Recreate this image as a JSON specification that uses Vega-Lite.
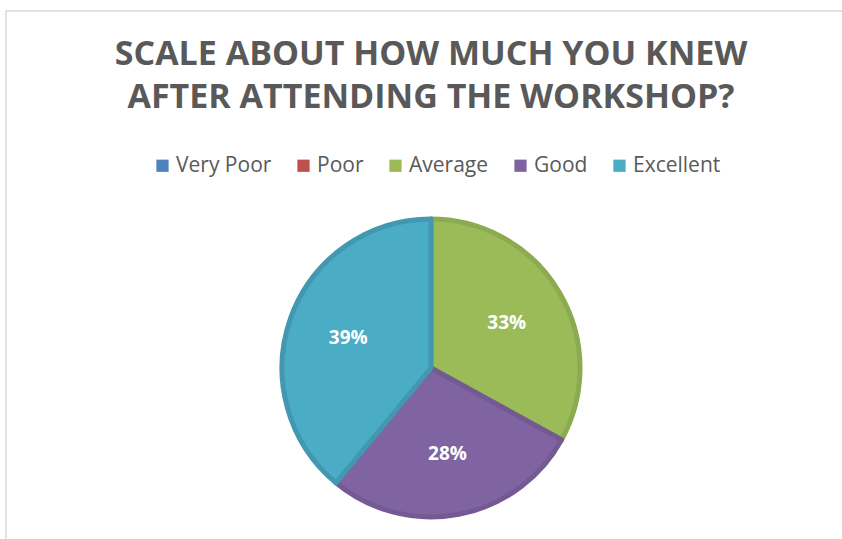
{
  "$schema": "https://vega.github.io/schema/vega-lite/v6.json",
  "width": 850,
  "height": 714,
  "autosize": {"type": "none"},
  "padding": {"left": 6, "top": 11, "right": 0, "bottom": 0},
  "background": "white",
  "view": {"stroke": "#d9d9d9", "strokeWidth": 1.5, "fill": null},
  "config": {"view": {"stroke": "#d9d9d9", "strokeWidth": 1.5}},
  "title": {
    "text": ["SCALE ABOUT HOW MUCH YOU KNEW", "AFTER ATTENDING THE WORKSHOP?"],
    "font": "Open Sans",
    "fontSize": 34,
    "fontWeight": "bold",
    "color": "#595959",
    "anchor": "middle",
    "frame": "group",
    "offset": -131,
    "baseline": "alphabetic",
    "lineHeight": 43
  },
  "data": {
    "values": [
      {"category": "Very Poor", "value": 0, "rank": 1},
      {"category": "Poor", "value": 0, "rank": 2},
      {"category": "Average", "value": 0.33, "rank": 3},
      {"category": "Good", "value": 0.28, "rank": 4},
      {"category": "Excellent", "value": 0.39, "rank": 5}
    ]
  },
  "transform": [{"filter": "datum.value > 0"}],
  "encoding": {
    "theta": {"field": "value", "type": "quantitative", "stack": true},
    "order": {"field": "rank", "type": "quantitative"}
  },
  "layer": [
    {
      "mark": {"type": "arc", "outerRadius": 149, "strokeWidth": 5, "strokeJoin": "round"},
      "encoding": {
        "color": {
          "field": "category",
          "type": "nominal",
          "scale": {
            "domain": ["Very Poor", "Poor", "Average", "Good", "Excellent"],
            "range": ["#4F81BD", "#C0504D", "#9BBB59", "#8064A2", "#4BACC6"]
          },
          "legend": {
            "title": null,
            "orient": "none",
            "direction": "horizontal",
            "columns": 5,
            "legendX": 146,
            "legendY": 144,
            "symbolType": "square",
            "symbolSize": 150,
            "symbolStrokeWidth": 0,
            "labelFont": "Open Sans",
            "labelFontSize": 21,
            "labelColor": "#595959",
            "labelOffset": 3,
            "columnPadding": 21
          }
        },
        "stroke": {
          "field": "category",
          "type": "nominal",
          "scale": {
            "domain": ["Very Poor", "Poor", "Average", "Good", "Excellent"],
            "range": ["#4674AA", "#AD4845", "#8CAA50", "#735A92", "#4298B0"]
          },
          "legend": null
        }
      }
    },
    {
      "mark": {"type": "text", "radius": 88, "font": "Open Sans", "fontSize": 19, "fontWeight": "bold", "fill": "white"},
      "encoding": {
        "text": {"field": "value", "type": "quantitative", "format": ".0%"}
      }
    }
  ]
}
